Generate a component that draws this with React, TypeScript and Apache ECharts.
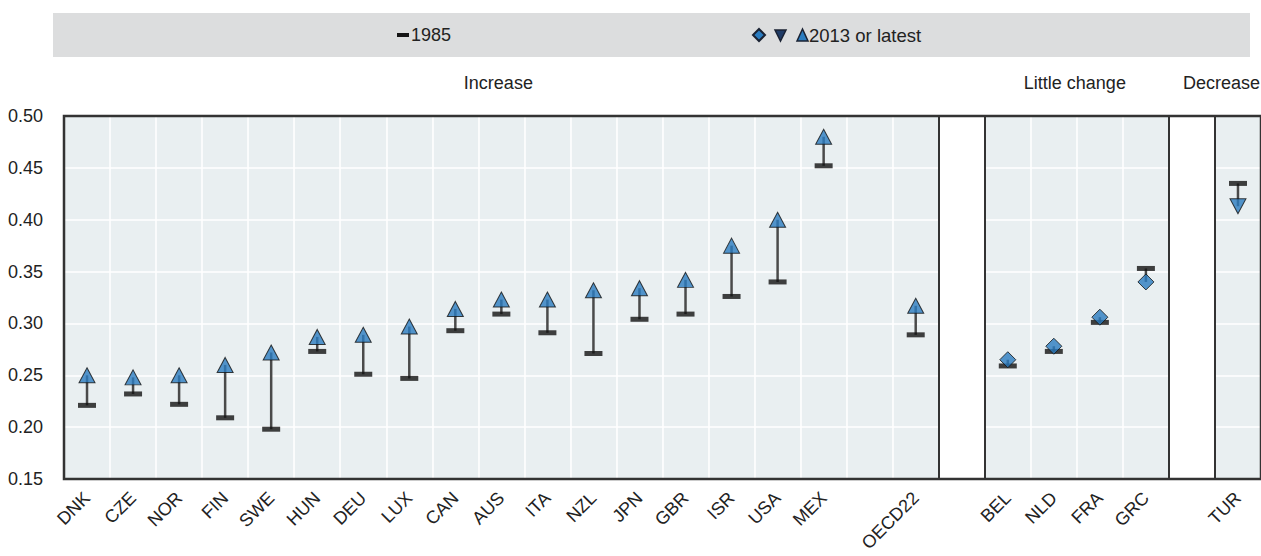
import React, { useEffect, useRef } from "react";
import * as echarts from "echarts";

// ---------- data ----------
const categories = [
  "DNK", "CZE", "NOR", "FIN", "SWE", "HUN", "DEU", "LUX", "CAN", "AUS", "ITA", "NZL",
  "JPN", "GBR", "ISR", "USA", "MEX", "", "OECD22", "", "BEL", "NLD", "FRA", "GRC", "", "TUR",
];
const gini1985 = [
  0.221, 0.232, 0.222, 0.209, 0.198, 0.273, 0.251, 0.247, 0.293, 0.309, 0.291, 0.271,
  0.304, 0.309, 0.326, 0.34, 0.452, null, 0.289, null, 0.259, 0.273, 0.301, 0.353, null, 0.435,
];
const gini2013 = [
  0.25, 0.248, 0.25, 0.26, 0.272, 0.287, 0.289, 0.297, 0.314, 0.323, 0.323, 0.332,
  0.334, 0.342, 0.375, 0.4, 0.48, null, 0.317, null, 0.265, 0.278, 0.306, 0.34, null, 0.413,
];
const panelNames = ["Increase", "Little change", "Decrease"];
const panelFirst = ["DNK", "BEL", "TUR"];
const panelLast = ["OECD22", "GRC", "TUR"];
const legendNames = ["1985", "2013 or latest"];
const yMin = 0.15;
const yMax = 0.5;
const yStep = 0.05;

// ---------- styles ----------
const FONT = "'Liberation Sans', Arial, sans-serif";
const BLUE = "#2a7cc0";
const DARK = "#333333";
const PANEL_BG = "#e9eff1";
const panelSymbol = ["triangle", "diamond", "triangle"];
const panelRotate = [0, 0, 180];

export default function App() {
  const ref = useRef<HTMLDivElement>(null);

  useEffect(() => {
    if (!ref.current) return;
    const chart = echarts.init(ref.current, undefined, { renderer: "svg" });

    const panelRanges = panelNames.map((_, p) => [
      categories.indexOf(panelFirst[p]),
      categories.indexOf(panelLast[p]),
    ]);
    const panelOf = (i: number) =>
      panelRanges.findIndex(([a, b]) => i >= a && i <= b);

    const bgData = categories.map((_, i) => (panelOf(i) >= 0 ? yMax : "-"));
    const stems = categories
      .map((_, i) => [i, gini1985[i], gini2013[i]])
      .filter((d) => d[1] != null && d[2] != null);
    const d1985 = categories
      .map((_, i) => [i, gini1985[i]])
      .filter((d) => d[1] != null);
    const d2013 = categories
      .map((_, i) => {
        const p = panelOf(i);
        return {
          value: [i, gini2013[i]],
          symbol: panelSymbol[p],
          symbolRotate: panelRotate[p],
          symbolSize: panelSymbol[p] === "diamond" ? [16, 16] : [16, 15],
        };
      })
      .filter((d) => d.value[1] != null);

    const borders: number[] = [];
    panelRanges.forEach(([a, b]) => {
      if (a > 0) borders.push(a);
      if (b + 1 < categories.length) borders.push(b + 1);
    });

    chart.setOption({
      animation: false,
      textStyle: { fontFamily: FONT },
      grid: {
        left: 64,
        right: -9,
        top: 116,
        bottom: 77,
        show: true,
        z: 1,
        backgroundColor: "transparent",
        borderColor: DARK,
        borderWidth: 2.5,
      },
      xAxis: [
        {
          type: "category",
          data: categories,
          axisLine: { show: false },
          axisTick: { show: false },
          axisLabel: {
            interval: 0,
            rotate: 45,
            margin: 16,
            fontSize: 18,
            color: "#222",
            fontFamily: FONT,
          },
          splitLine: {
            show: true,
            interval: 0,
            lineStyle: { color: "#ffffff", width: 1.5 },
          },
        },
        { type: "value", min: 0, max: categories.length, show: false },
      ],
      yAxis: {
        type: "value",
        min: yMin,
        max: yMax,
        interval: yStep,
        axisLine: { show: false },
        axisTick: { show: false },
        axisLabel: {
          formatter: (v: number) => v.toFixed(2),
          margin: 21,
          fontSize: 18,
          color: "#222",
          fontFamily: FONT,
        },
        splitLine: { lineStyle: { color: "#ffffff", width: 1.5 } },
      },
      series: [
        {
          type: "bar",
          data: bgData,
          barWidth: "100%",
          barCategoryGap: "0%",
          itemStyle: { color: PANEL_BG },
          z: -1,
          silent: true,
        },
        {
          type: "custom",
          data: stems,
          z: 2,
          silent: true,
          renderItem: (params: any, api: any) => {
            const a = api.coord([api.value(0), api.value(1)]);
            const b = api.coord([api.value(0), api.value(2)]);
            return {
              type: "line",
              shape: { x1: a[0], y1: a[1], x2: b[0], y2: b[1] },
              style: { stroke: "#4a4a4a", lineWidth: 2.5 },
            };
          },
        },
        {
          name: legendNames[0],
          type: "scatter",
          data: d1985,
          symbol: "rect",
          symbolSize: [18, 5],
          itemStyle: { color: "#111111" },
          z: 3,
          silent: true,
        },
        {
          name: legendNames[1],
          type: "scatter",
          data: d2013,
          itemStyle: { color: BLUE, borderColor: "#111", borderWidth: 1 },
          z: 4,
          silent: true,
        },
        {
          type: "line",
          xAxisIndex: 1,
          data: [],
          silent: true,
          markLine: {
            silent: true,
            symbol: "none",
            label: { show: false },
            lineStyle: { color: DARK, width: 2, type: "solid" },
            data: borders.map((b) => ({ xAxis: b })),
          },
        },
      ],
    });

    const cx = (p: number) =>
      chart.convertToPixel({ xAxisIndex: 1 }, (panelRanges[p][0] + panelRanges[p][1] + 1) / 2) as number;

    const headerStyle = { fontSize: 18, fill: "#222", fontFamily: FONT };
    chart.setOption({
      graphic: [
        { type: "rect", shape: { x: 53, y: 13, width: 1197, height: 44 }, style: { fill: "#dcddde" }, silent: true },
        { type: "rect", shape: { x: 397, y: 33, width: 12, height: 4 }, style: { fill: "#151515" }, silent: true },
        { type: "text", x: 411, y: 35, style: { text: legendNames[0], fontSize: 18, fill: "#222", fontFamily: FONT, verticalAlign: "middle" }, silent: true },
        { type: "polygon", shape: { points: [[759, 29], [765, 35], [759, 41], [753, 35]] }, style: { fill: BLUE, stroke: "#1a2233", lineWidth: 2 }, silent: true },
        { type: "polygon", shape: { points: [[775, 30], [786, 30], [780.5, 41]] }, style: { fill: "#1f3b66", stroke: "#1a2233", lineWidth: 1.5 }, silent: true },
        { type: "polygon", shape: { points: [[802.5, 29], [808, 41], [797, 41]] }, style: { fill: BLUE, stroke: "#1a2233", lineWidth: 1.5 }, silent: true },
        { type: "text", x: 809, y: 35, style: { text: legendNames[1], fontSize: 18.5, fill: "#222", fontFamily: FONT, verticalAlign: "middle" }, silent: true },
        { type: "text", x: cx(0) - 3, y: 83, style: { ...headerStyle, text: panelNames[0], align: "center", verticalAlign: "middle" }, silent: true },
        { type: "text", x: cx(1) - 2, y: 83, style: { ...headerStyle, text: panelNames[1], align: "center", verticalAlign: "middle" }, silent: true },
        { type: "text", x: 1260, y: 83, style: { ...headerStyle, text: panelNames[2], align: "right", verticalAlign: "middle" }, silent: true },
      ],
    });

    return () => chart.dispose();
  }, []);

  return (
    <div
      ref={ref}
      style={{ position: "fixed", left: 0, top: 0, width: 1261, height: 556, background: "#fff" }}
    />
  );
}
